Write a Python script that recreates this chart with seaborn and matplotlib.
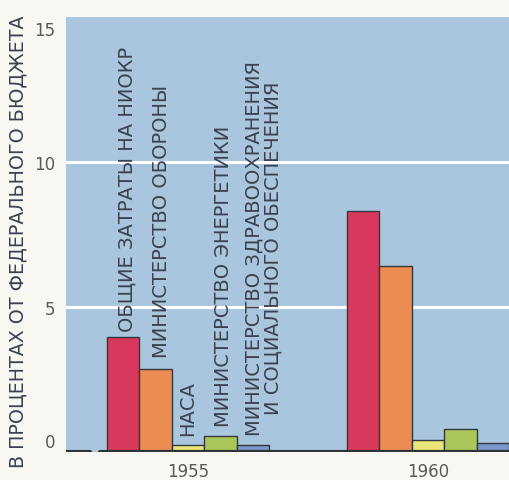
import matplotlib
matplotlib.use("Agg")
import matplotlib.pyplot as plt
import matplotlib.transforms as mtransforms
import seaborn as sns
import pandas as pd

# Budget shares by agency, percent of the federal budget
years = ["1955", "1960"]
categories = [
    "ОБЩИЕ ЗАТРАТЫ НА НИОКР",
    "МИНИСТЕРСТВО ОБОРОНЫ",
    "НАСА",
    "МИНИСТЕРСТВО ЭНЕРГЕТИКИ",
    "МИНИСТЕРСТВО ЗДРАВООХРАНЕНИЯ\nИ СОЦИАЛЬНОГО ОБЕСПЕЧЕНИЯ",
]
values_1955 = [3.95, 2.85, 0.25, 0.55, 0.25]
values_1960 = [8.3, 6.4, 0.4, 0.8, 0.3]
yticks = [0, 5, 10, 15]
ylabel = "В ПРОЦЕНТАХ ОТ ФЕДЕРАЛЬНОГО БЮДЖЕТА"

bar_colors = ["#d8385c", "#ec8c52", "#e8e57a", "#a9c659", "#7b98cb"]
text_color = "#3a4150"
tick_color = "#5a5a5a"

df = pd.DataFrame({
    "year": [y for y in years for _ in categories],
    "category": categories * len(years),
    "value": values_1955 + values_1960,
})

sns.set_style("white")
plt.rcParams["font.family"] = ["DejaVu Sans"]

fig = plt.figure(figsize=(5.09, 4.81), dpi=100, facecolor="#f8f7f2")
ax = fig.add_axes([66 / 509, 1 - 453 / 481, 1 - 66 / 509, (453 - 18) / 481])
ax.set_facecolor("#a9c6de")

sns.barplot(
    data=df, x="year", y="value", hue="category", order=years,
    hue_order=categories, palette=bar_colors, saturation=1, width=0.675,
    gap=0, edgecolor="#34383a", linewidth=1.0, legend=False, ax=ax, zorder=3,
)

ax.set_ylim(0, 15)
ax.set_xlim(-0.508, 1.3375)
ax.set_yticks(yticks)
ax.set_yticklabels([str(t) for t in yticks])
for y in yticks[1:-1]:
    ax.axhline(y, color="white", lw=2.2, zorder=1)
# dark baseline, with a short break near the left edge
ax.axhline(0, xmin=0, xmax=0.055, color="#2e3438", lw=3, zorder=4)
ax.axhline(0, xmin=0.077, xmax=1, color="#2e3438", lw=3, zorder=4)

for s in ax.spines.values():
    s.set_visible(False)
ax.tick_params(axis="both", length=0, labelsize=12, colors=tick_color)
ax.tick_params(axis="y", pad=8)
ax.tick_params(axis="x", pad=7)
ax.set_xlabel("")
ax.set_ylabel("")

# nudge the extreme y labels inward
ylabels = ax.get_yticklabels()
ylabels[0].set_transform(ylabels[0].get_transform() +
                         mtransforms.ScaledTranslation(0, 12 / 100, fig.dpi_scale_trans))
ylabels[-1].set_transform(ylabels[-1].get_transform() +
                          mtransforms.ScaledTranslation(0, -11 / 100, fig.dpi_scale_trans))

# vertical category labels above the 1955 bars
x_offsets = [4, 6, 0, 3, 11]
y_offsets = [6, 12, 10, 10, 10]
for container, label, dx, dy in zip(ax.containers, categories, x_offsets, y_offsets):
    bar = container.patches[0]
    xc = bar.get_x() + bar.get_width() / 2
    ax.annotate(
        label, xy=(xc, bar.get_height()), xytext=(dx, dy),
        textcoords="offset pixels", rotation=90, ha="center", va="bottom",
        multialignment="center", fontsize=14, color=text_color,
        linespacing=1.0, zorder=5,
    )

fig.text(18 / 509, 1 - 242 / 481, ylabel, rotation=90, ha="center",
         va="center", fontsize=13.7, color=text_color)

fig.savefig("out.png", dpi=100, facecolor=fig.get_facecolor())
